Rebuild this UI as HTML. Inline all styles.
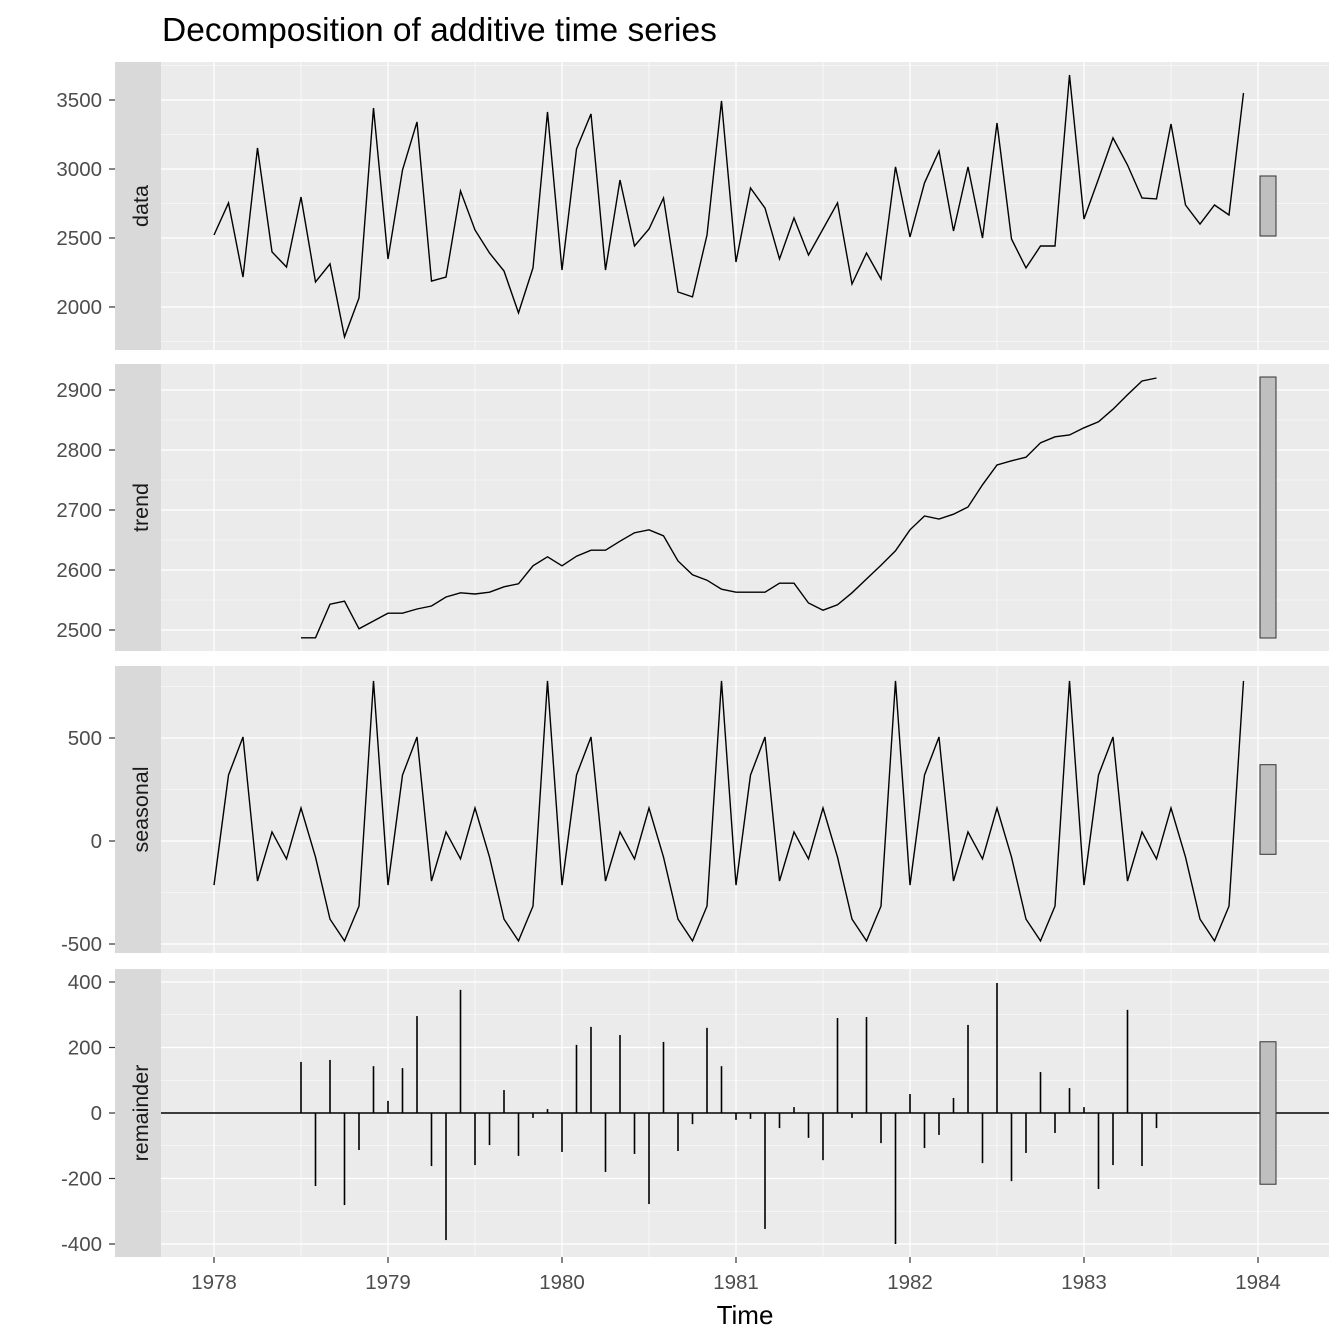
<!DOCTYPE html>
<html><head><meta charset="utf-8"><style>
body{margin:0;background:#fff}
svg{display:block;font-family:"Liberation Sans",Arial,sans-serif}
</style></head><body>
<svg id="chart" width="1344" height="1344" viewBox="0 0 1344 1344">
<text x="162" y="41" font-size="33.5" fill="#000">Decomposition of additive time series</text>
<text x="745" y="1324" font-size="26" fill="#000" text-anchor="middle">Time</text>
<g id="g"></g>
</svg>
<script>
const dataValues=[2522,2754,2217,3152,2399,2290,2797,2181,2312,1783,2065,3442,2348,2993,3341,2188,2217,2841,2558,2391,2261,1957,2283,3413,2268,3145,3399,2268,2920,2442,2565,2790,2109,2073,2522,3493,2326,2862,2717,2348,2645,2377,2565,2754,2167,2391,2203,3015,2507,2899,3130,2551,3015,2500,3333,2493,2283,2442,2442,3681,2638,2928,3225,3029,2790,2783,3326,2739,2601,2739,2667,3551];
const trendValues=[2487,2487,2543,2548,2502,2515,2528,2528,2535,2540,2555,2562,2560,2563,2572,2577,2607,2622,2607,2623,2633,2633,2648,2662,2667,2657,2615,2592,2583,2568,2563,2563,2563,2578,2578,2545,2533,2542,2562,2585,2608,2632,2667,2690,2685,2693,2705,2742,2775,2782,2788,2812,2822,2825,2837,2847,2868,2892,2915,2920];
const trendStart=6;
const seasonalPattern=[-214,320,505,-194,44,-87,160,-78,-379,-485,-316,777];
const remainderValues=[156,-223,162,-281,-113,143,37,137,296,-162,-388,376,-159,-98,70,-131,-15,12,-119,208,263,-180,238,-125,-278,217,-116,-34,260,143,-21,-18,-354,-46,18,-76,-144,290,-15,293,-92,-400,58,-107,-67,46,269,-153,397,-208,-122,125,-61,76,18,-232,-159,315,-162,-46];
const xTicks=[1978,1979,1980,1981,1982,1983,1984];
const dataTicks=[2000,2500,3000,3500];
const trendTicks=[2500,2600,2700,2800,2900];
const seasonalTicks=[-500,0,500];
const remainderTicks=[-400,-200,0,200,400];
const rangeBar=435;

const NS="http://www.w3.org/2000/svg";
const g=document.getElementById('g');
function el(t,a,p){const e=document.createElementNS(NS,t);for(const k in a)e.setAttribute(k,a[k]);(p||g).appendChild(e);return e;}
const X=t=>214+(t-1978)*174;
const PL=161,PR=1329;
const panels=[
 {name:'data',top:62,bot:350,y:v=>100+(3500-v)*69/500,ticks:dataTicks,step:500},
 {name:'trend',top:364,bot:651,y:v=>390+(2900-v)*0.6,ticks:trendTicks,step:100},
 {name:'seasonal',top:666,bot:953,y:v=>841-v*0.206,ticks:seasonalTicks,step:500},
 {name:'remainder',top:969,bot:1257,y:v=>1113-v*0.3275,ticks:remainderTicks,step:200}
];
const allX=[];for(let i=0;i<72;i++)allX.push(1978+i/12);
const seasonal=allX.map((t,i)=>seasonalPattern[i%12]);
panels.forEach(p=>{
 const pg=el('g',{});
 
 
 el('rect',{x:PL,y:p.top,width:PR-PL,height:p.bot-p.top,fill:'#EBEBEB'},pg);
 const strip=el('rect',{x:115,y:p.top,width:46,height:p.bot-p.top,fill:'#D9D9D9'},pg);
 
 
 const cy=(p.top+p.bot)/2;
 const st=el('text',{x:148,y:cy,'font-size':21.5,fill:'#1A1A1A','text-anchor':'middle',transform:`rotate(-90 148 ${cy})`},pg);
 st.textContent=p.name;
 
 
 const t0=p.ticks[0]-p.step*2,t1=p.ticks[p.ticks.length-1]+p.step*2;
 for(let v=t0+p.step/2;v<t1;v+=p.step){const yy=p.y(v);if(yy>p.top&&yy<p.bot)el('line',{x1:PL,x2:PR,y1:yy,y2:yy,stroke:'#fff','stroke-width':0.6},pg);}
 for(let k=1977.5;k<1985;k+=1){const xx=X(k);if(xx>PL&&xx<PR)el('line',{x1:xx,x2:xx,y1:p.top,y2:p.bot,stroke:'#fff','stroke-width':0.6},pg);}
 p.ticks.forEach(v=>{const yy=p.y(v);el('line',{x1:PL,x2:PR,y1:yy,y2:yy,stroke:'#fff','stroke-width':1.2},pg);
  el('line',{x1:109,x2:115,y1:yy,y2:yy,stroke:'#333','stroke-width':1.2},pg);
  const tl=el('text',{x:102,y:yy+7,'font-size':20.5,fill:'#4D4D4D','text-anchor':'end'},pg);tl.textContent=v;
  
  });
 xTicks.forEach(t=>{const xx=X(t);el('line',{x1:xx,x2:xx,y1:p.top,y2:p.bot,stroke:'#fff','stroke-width':1.2},pg);});
 p.g=pg;
});
function line(p,xs,vs,name){const d=vs.map((v,i)=>(i?'L':'M')+X(xs[i]).toFixed(1)+','+p.y(v).toFixed(1)).join('');
 const e=el('path',{d:d,fill:'none',stroke:'#000','stroke-width':1.4},p.g);
 
 }
line(panels[0],allX,dataValues,'data-line');
line(panels[1],trendValues.map((v,i)=>allX[i+trendStart]),trendValues,'trend-line');
line(panels[2],allX,seasonal,'seasonal-line');
const rp=panels[3];
const zl=el('line',{x1:PL,x2:PR,y1:rp.y(0),y2:rp.y(0),stroke:'#000','stroke-width':1.6},rp.g);


remainderValues.forEach((v,i)=>{const xx=X(allX[i+trendStart]);
 const b=el('line',{x1:xx,x2:xx,y1:rp.y(0),y2:rp.y(v),stroke:'#000','stroke-width':1.6},rp.g);
 
 });
panels.forEach(p=>{const mid=(p.top+p.bot)/2;const h=Math.abs(p.y(0)-p.y(rangeBar));
 const r=el('rect',{x:1260,y:mid-h/2,width:16,height:h,fill:'#BFBFBF',stroke:'#333','stroke-width':1},p.g);
 
 });
xTicks.forEach(t=>{const xx=X(t);el('line',{x1:xx,x2:xx,y1:1257,y2:1263,stroke:'#333','stroke-width':1.2});
 const tl=el('text',{x:xx,y:1289,'font-size':20.5,fill:'#4D4D4D','text-anchor':'middle'});tl.textContent=t;
 
 });
</script>
</body></html>
